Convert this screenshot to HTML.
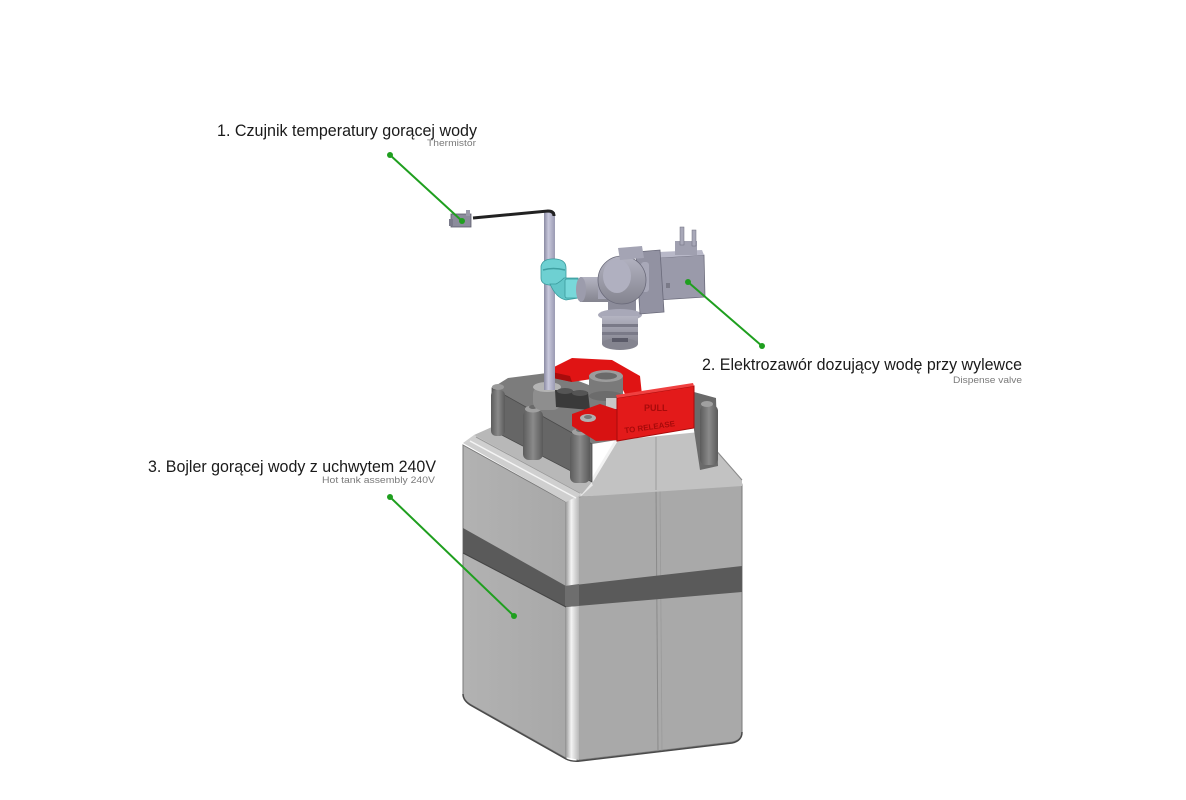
<!DOCTYPE html>
<html><head><meta charset="utf-8"><style>
html,body{margin:0;padding:0;background:#fff;}
svg{display:block;}
</style></head><body>
<svg width="1186" height="800" viewBox="0 0 1186 800" xmlns="http://www.w3.org/2000/svg">
<defs>
<linearGradient id="corner" x1="0" x2="1" y1="0" y2="0">
<stop offset="0" stop-color="#8e8e8e"/><stop offset="0.45" stop-color="#f4f4f4"/><stop offset="1" stop-color="#b8b8b8"/>
</linearGradient>
<linearGradient id="pipe" x1="0" x2="1" y1="0" y2="0">
<stop offset="0" stop-color="#8a8aa2"/><stop offset="0.4" stop-color="#c8c8dc"/><stop offset="1" stop-color="#9a9ab2"/>
</linearGradient>
<linearGradient id="leftface" x1="0" x2="1" y1="0" y2="0">
<stop offset="0" stop-color="#b2b2b2"/><stop offset="1" stop-color="#a8a8a8"/>
</linearGradient>
<linearGradient id="cyl" x1="0" x2="1" y1="0" y2="0">
<stop offset="0" stop-color="#5c5c5c"/><stop offset="0.5" stop-color="#8a8a8a"/><stop offset="1" stop-color="#5a5a5a"/>
</linearGradient>
<linearGradient id="valve" x1="0" x2="0" y1="0" y2="1">
<stop offset="0" stop-color="#b4b4c2"/><stop offset="1" stop-color="#84848f"/>
</linearGradient>
</defs>

<!-- ===== Tank ===== -->
<path d="M577,497 L736,480 Q742,480 742,486 L742,732 Q742,740 732,742 L580,760 L577,760 Z" fill="#a9a9a9" stroke="#7a7a7a" stroke-width="1"/>
<path d="M463,445 L566,502 L566,758 L470,704 Q463,700 463,694 Z" fill="url(#leftface)" stroke="#7a7a7a" stroke-width="1"/>
<line x1="656" y1="488" x2="658" y2="751" stroke="#8a8a8a" stroke-width="1"/>
<line x1="660" y1="488" x2="662" y2="751" stroke="#9a9a9a" stroke-width="0.8"/>
<path d="M565,500 L579,496 L579,760 L565,757 Z" fill="url(#corner)"/>
<path d="M463,694 Q463,701 472,706 L566,759 Q572,762 580,761 L732,743 Q742,741 742,732" fill="none" stroke="#4a4a4a" stroke-width="1.5"/>
<!-- band -->
<path d="M463,528 L566,586 L742,566 L742,592 L566,607 L463,553 Z" fill="#5a5a5a"/>
<path d="M565,586 L579,584 L579,606 L565,607 Z" fill="#6e6e6e"/>
<line x1="463" y1="553" x2="566" y2="607" stroke="#444" stroke-width="1"/>

<!-- shoulder region -->
<path d="M577,497 L592,482 L616,440 L700,432 L742,480 L742,486 Z" fill="#c2c2c2"/>
<path d="M656,437 L656,490" stroke="#9c9c9c" stroke-width="1"/>
<path d="M700,432 L742,480" stroke="#8a8a8a" stroke-width="1"/>
<path d="M590,484 L616,441" stroke="#f2f2f2" stroke-width="3"/>
<path d="M580,495 L592,484" stroke="#e8e8e8" stroke-width="3"/>
<!-- left lip -->
<path d="M463,443 L474,435 L582,494 L566,502 Z" fill="#cfcfcf"/>
<path d="M470,441 L576,498" stroke="#f4f4f4" stroke-width="1.5"/>
<path d="M476,437 L580,493" stroke="#9a9a9a" stroke-width="1"/>
<path d="M474,435 L492,427 L592,482 L582,494 Z" fill="#b8b8b8"/>

<!-- ===== Housing ===== -->
<path d="M492,388 L508,378 L555,372 L615,395 L617,440 L592,444 Z" fill="#7c7c7c"/>
<!-- right housing section -->
<path d="M694,392 L716,398 L718,466 L700,470 L694,430 Z" fill="#6a6a6a"/>
<path d="M492,388 L592,444 L592,482 L492,430 Z" fill="#666" stroke="#4a4a4a" stroke-width="0.8"/>
<rect x="491" y="390" width="14" height="46" rx="5" fill="url(#cyl)"/>
<rect x="523" y="410" width="20" height="50" rx="6" fill="url(#cyl)"/>
<rect x="570" y="433" width="20" height="50" rx="6" fill="url(#cyl)"/>
<ellipse cx="498" cy="387" rx="6" ry="3" fill="#9a9a9a"/>
<ellipse cx="533" cy="409" rx="8" ry="3.5" fill="#a0a0a0"/>
<ellipse cx="580" cy="432" rx="8" ry="3.5" fill="#a0a0a0"/>
<ellipse cx="533" cy="407" rx="4" ry="2" fill="#6a6a6a"/>
<ellipse cx="580" cy="430" rx="4" ry="2" fill="#6a6a6a"/>
<rect x="700" y="405" width="18" height="60" rx="6" fill="url(#cyl)"/>
<ellipse cx="707" cy="404" rx="6" ry="3" fill="#a0a0a0"/>

<rect x="533" y="386" width="28" height="24" rx="8" fill="#8e8e8e"/>
<ellipse cx="547" cy="387" rx="14" ry="5" fill="#b4b4b4"/>
<path d="M555,390 L588,392 L590,410 L556,407 Z" fill="#3a3a3a"/>
<ellipse cx="565" cy="391" rx="8" ry="3" fill="#555"/>
<ellipse cx="580" cy="393" rx="8" ry="3" fill="#555"/>

<!-- red top crescent -->
<path d="M552,368 L572,358 L612,360 L640,376 L642,395 L626,396 L620,384 L598,378 L572,382 L553,378 Z" fill="#e01414"/>
<path d="M553,378 L572,382 L570,376 L552,372 Z" fill="#a80c0c"/>
<rect x="589" y="376" width="34" height="20" fill="#7a7a7a"/>
<ellipse cx="606" cy="396" rx="17" ry="5" fill="#6c6c6c"/>
<ellipse cx="606" cy="376" rx="17" ry="6" fill="#9c9c9c"/>
<ellipse cx="606" cy="376" rx="11" ry="3.5" fill="#6a6a6a"/>
<rect x="606" y="398" width="12" height="14" fill="#c8c8c8"/>
<rect x="606" y="409" width="12" height="3" fill="#2a3acc"/>
<path d="M572,414 L600,404 L618,410 L619,440 L596,441 L572,426 Z" fill="#d81212"/>
<ellipse cx="588" cy="418" rx="8" ry="4" fill="#b0b0b0"/>
<ellipse cx="588" cy="417" rx="4" ry="2" fill="#777"/>
<!-- red tab -->
<path d="M617,398 L694,386 L694,428 L617,441 Z" fill="#e31a1a" stroke="#a80c0c" stroke-width="1"/>
<path d="M617,398 L694,386 L693,383 L616,395 Z" fill="#f04040"/>
<text x="644" y="411" font-family="Liberation Sans, sans-serif" font-size="9" fill="#a80a0a" font-weight="bold">PULL</text>
<text x="624" y="429" font-family="Liberation Sans, sans-serif" font-size="8" fill="#a80a0a" font-weight="bold" transform="rotate(-8 655 425)">TO RELEASE</text>

<!-- ===== Pipe and wire ===== -->
<rect x="544" y="212" width="11" height="178" fill="url(#pipe)"/>
<path d="M473,218 L548,211 Q554,211 554,216" fill="none" stroke="#222" stroke-width="3"/>
<rect x="451" y="214" width="20" height="13" fill="#8c8c9c" stroke="#5c5c6c" stroke-width="0.8"/>
<rect x="449" y="219" width="4" height="7" fill="#7a7a8a"/>
<rect x="466" y="210" width="4" height="6" fill="#9a9aaa"/>

<!-- cyan elbow -->
<path d="M541,266 Q543,258 556,259 Q566,260 566,268 L566,282 Q560,287 549,285 Q541,284 541,278 Z" fill="#6ed0d2" stroke="#3a9a9c" stroke-width="0.8"/>
<path d="M543,270 Q553,267 565,270" stroke="#3fa0a2" stroke-width="1.5" fill="none"/>
<path d="M550,284 Q556,298 566,300 L578,298 L578,278 L564,278 Q560,282 556,284 Z" fill="#62c6c8" stroke="#3a9a9c" stroke-width="0.8"/>
<rect x="565" y="279" width="14" height="19" rx="2" fill="#78d8da" stroke="#3a9a9c" stroke-width="0.8"/>

<!-- ===== Valve ===== -->
<rect x="580" y="277" width="28" height="25" fill="url(#valve)"/>
<ellipse cx="581" cy="289.5" rx="5" ry="12.5" fill="#9c9cac"/>
<rect x="598" y="281" width="10" height="18" fill="#a4a4b4"/>
<rect x="608" y="300" width="28" height="14" fill="#8c8c9a"/>
<ellipse cx="620" cy="315" rx="22" ry="6" fill="#a8a8b8"/>
<rect x="602" y="316" width="36" height="28" fill="url(#valve)"/>
<rect x="602" y="324" width="36" height="3" fill="#7a7a88"/>
<rect x="602" y="332" width="36" height="3" fill="#7a7a88"/>
<ellipse cx="620" cy="344" rx="18" ry="6" fill="#84848f"/>
<rect x="612" y="338" width="16" height="4" fill="#5a5a68"/>
<path d="M656,258 L704,255 L705,297 L658,300 Z" fill="#9a9aaa" stroke="#6c6c7c" stroke-width="0.8"/>
<path d="M656,258 L704,255 L702,250 L658,252 Z" fill="#b8b8c8"/>
<rect x="675" y="241" width="22" height="14" fill="#a0a0b0"/>
<rect x="680" y="227" width="4" height="18" fill="#a8a8b8" stroke="#6c6c7c" stroke-width="0.5"/>
<rect x="692" y="230" width="4" height="16" fill="#a8a8b8" stroke="#6c6c7c" stroke-width="0.5"/>
<rect x="666" y="283" width="4" height="5" fill="#7a7a88"/>
<path d="M636,252 L660,250 L664,312 L640,314 Z" fill="#9292a2" stroke="#6a6a7a" stroke-width="0.8"/>
<rect x="641" y="262" width="8" height="30" rx="3" fill="#a8a8b8"/>
<circle cx="622" cy="280" r="24" fill="url(#valve)" stroke="#6a6a7a" stroke-width="0.8"/>
<ellipse cx="617" cy="276" rx="14" ry="17" fill="#b0b0c0"/>
<path d="M618,248 L642,246 L644,258 L620,260 Z" fill="#a4a4b4"/>

<!-- ===== Leader lines ===== -->
<g stroke="#1f9f1f" stroke-width="2" fill="#1f9f1f">
<line x1="390" y1="155" x2="462" y2="221"/>
<line x1="688" y1="282" x2="762" y2="346"/>
<line x1="390" y1="497" x2="514" y2="616"/>
<circle cx="390" cy="155" r="3" stroke="none"/>
<circle cx="462" cy="221" r="3" stroke="none"/>
<circle cx="688" cy="282" r="3" stroke="none"/>
<circle cx="762" cy="346" r="3" stroke="none"/>
<circle cx="390" cy="497" r="3" stroke="none"/>
<circle cx="514" cy="616" r="3" stroke="none"/>
</g>

<!-- ===== Labels ===== -->
<g font-family="Liberation Sans, sans-serif">
<text x="217" y="136" font-size="17" fill="#1a1a1a" textLength="260" lengthAdjust="spacingAndGlyphs">1. Czujnik temperatury gorącej wody</text>
<text x="427" y="146" font-size="9.5" fill="#7a7a7a" textLength="49" lengthAdjust="spacingAndGlyphs">Thermistor</text>
<text x="702" y="370" font-size="17" fill="#1a1a1a" textLength="320" lengthAdjust="spacingAndGlyphs">2. Elektrozawór dozujący wodę przy wylewce</text>
<text x="953" y="383" font-size="9.5" fill="#7a7a7a" textLength="69" lengthAdjust="spacingAndGlyphs">Dispense valve</text>
<text x="148" y="472" font-size="17" fill="#1a1a1a" textLength="288" lengthAdjust="spacingAndGlyphs">3. Bojler gorącej wody z uchwytem 240V</text>
<text x="322" y="483" font-size="9.5" fill="#7a7a7a" textLength="113" lengthAdjust="spacingAndGlyphs">Hot tank assembly 240V</text>
</g>
</svg>
</body></html>
